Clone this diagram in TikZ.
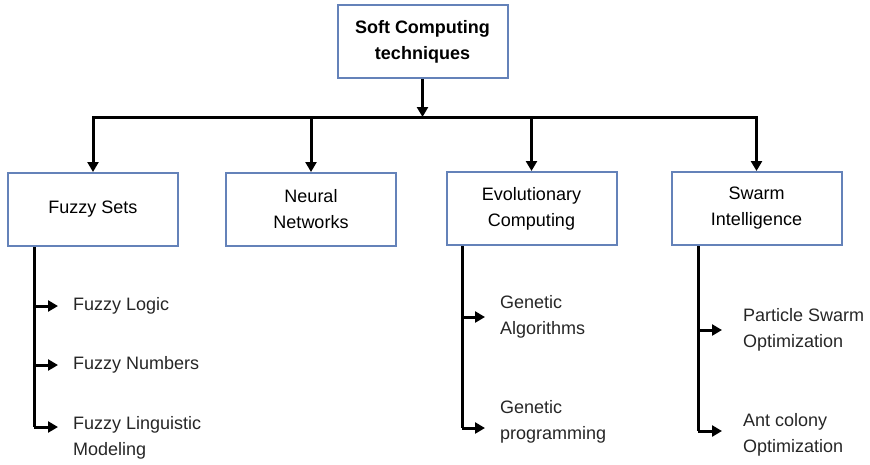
\documentclass[tikz,border=0pt]{standalone}
\usepackage{fontspec}
\setmainfont{Liberation Sans}
\usetikzlibrary{arrows.meta}
\definecolor{boxblue}{RGB}{100,130,185}
\begin{document}
\begin{tikzpicture}[x=1pt,y=-1pt,
  box/.style={draw=boxblue,line width=2pt,fill=white,minimum width=170pt,minimum height=73pt,
    align=center,font=\fontsize{18}{26}\selectfont,inner sep=2pt},
  item/.style={anchor=west,align=left,inner xsep=0pt,inner ysep=1pt,font=\fontsize{18}{26}\selectfont,text=black!85},
  arr/.style={line width=3pt,-{Triangle[length=10pt,width=11pt]}},
  ln/.style={line width=3pt}]
\useasboundingbox (0,0) rectangle (870,464);
% boxes
\node[box,font=\bfseries\fontsize{18}{26}\selectfont] (top) at (422.5,41.5) {Soft Computing\\techniques};
\node[box] (fuzzy) at (93,209.5) {Fuzzy Sets};
\node[box] (neural) at (311,209.5) {Neural\\Networks};
\node[box] (evo) at (531.5,208.5) {Evolutionary\\Computing};
\node[box] (swarm) at (756.5,208.5) {Swarm\\Intelligence};
% bus
\coordinate (bus) at (422.5,117);
\draw[arr] (top.south) -- (bus);
\draw[ln,line cap=rect] (fuzzy.north |- bus) -- (swarm.north |- bus);
\draw[arr] (fuzzy.north |- bus) -- (fuzzy.north);
\draw[arr] (neural.north |- bus) -- (neural.north);
\draw[arr] (evo.north |- bus) -- (evo.north);
\draw[arr] (swarm.north |- bus) -- (swarm.north);
% items
\node[item] (fl) at (73,306) {Fuzzy Logic};
\node[item] (fn) at (73,365) {Fuzzy Numbers};
\node[item] (fling) at (73,438) {Fuzzy Linguistic\\Modeling};
\node[item] (ga) at (500,317) {Genetic\\Algorithms};
\node[item] (gp) at (500,422) {Genetic\\programming};
\node[item] (pso) at (743,330) {Particle Swarm\\Optimization};
\node[item] (aco) at (743,435) {Ant colony\\Optimization};
% trunks
\coordinate (ft) at (34,0);
\coordinate (et) at (462,0);
\coordinate (st) at (698,0);
\draw[ln] (ft |- fuzzy.south) -- ([yshift=11]ft |- fling.west);
\draw[arr] (ft |- fl.west) -- ([xshift=-15]fl.west);
\draw[arr] (ft |- fn.west) -- ([xshift=-15]fn.west);
\draw[arr] ([yshift=11]ft |- fling.west) -- ([xshift=-15,yshift=11]fling.west);
\draw[ln] (et |- evo.south) -- ([yshift=-6]et |- gp.west);
\draw[arr] (et |- ga.west) -- ([xshift=-15]ga.west);
\draw[arr] ([yshift=-6]et |- gp.west) -- ([xshift=-15,yshift=-6]gp.west);
\draw[ln] (st |- swarm.south) -- ([yshift=4]st |- aco.west);
\draw[arr] (st |- pso.west) -- ([xshift=-21]pso.west);
\draw[arr] ([yshift=4]st |- aco.west) -- ([xshift=-21,yshift=4]aco.west);
\end{tikzpicture}
\end{document}
